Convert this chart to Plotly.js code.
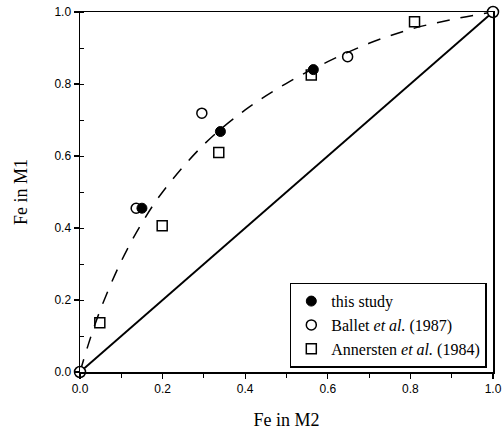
<!DOCTYPE html>
<html>
<head>
<meta charset="utf-8">
<script src="https://cdn.plot.ly/plotly-3.0.1.min.js"></script>
<style>html,body{margin:0;padding:0;background:#fff;}#chart{width:503px;height:434px;}</style>
</head>
<body>
<div id="chart"></div>
<script>
// Data
const thisStudyX = [0.15, 0.34, 0.565];
const thisStudyY = [0.455, 0.668, 0.84];
const balletX = [0.136, 0.295, 0.648];
const balletY = [0.455, 0.719, 0.876];
const annerstenX = [0.048, 0.199, 0.336, 0.56, 0.81];
const annerstenY = [0.137, 0.406, 0.61, 0.825, 0.973];
const endX = [0, 1];
const endY = [0, 1];
const curveX = [0, 0.02, 0.05, 0.1, 0.15, 0.2, 0.3, 0.4, 0.5, 0.6, 0.7, 0.8, 0.9, 1.0];
const curveY = [0, 0.076, 0.175, 0.308, 0.414, 0.5, 0.632, 0.728, 0.802, 0.862, 0.913, 0.952, 0.979, 1.0];
const diagX = [0, 1];
const diagY = [0, 1];
const tickVals = [0, 0.2, 0.4, 0.6, 0.8, 1.0];
const tickText = ['0.0', '0.2', '0.4', '0.6', '0.8', '1.0'];

const serif = 'Liberation Serif, Times New Roman, serif';
const sans = 'Liberation Sans, Arial, sans-serif';

const traces = [
  {x: diagX, y: diagY, mode: 'lines', line: {color: '#000', width: 2}, showlegend: false, hoverinfo: 'skip'},
  {x: curveX, y: curveY, mode: 'lines', line: {color: '#000', width: 1.5, dash: '13px,11px', shape: 'spline'}, showlegend: false, hoverinfo: 'skip'},
  {x: thisStudyX, y: thisStudyY, mode: 'markers', name: 'this study',
   marker: {symbol: 'circle', size: 10, color: '#000', line: {color: '#000', width: 1}}},
  {x: balletX, y: balletY, mode: 'markers', name: 'Ballet <i>et al.</i> (1987)',
   marker: {symbol: 'circle-open', size: 10, color: '#000', line: {color: '#000', width: 1.5}}},
  {x: annerstenX, y: annerstenY, mode: 'markers', name: 'Annersten <i>et al.</i> (1984)',
   marker: {symbol: 'square-open', size: 10, color: '#000', line: {color: '#000', width: 1.5}}},
  {x: endX, y: endY, mode: 'markers', showlegend: false, cliponaxis: false,
   marker: {symbol: 'circle', size: 11, color: '#fff', line: {color: '#000', width: 1.5}}}
];

const layout = {
  width: 503, height: 434,
  margin: {l: 80, r: 10, t: 12, b: 62},
  paper_bgcolor: '#fff', plot_bgcolor: '#fff',
  showlegend: true,
  legend: {
    x: 0.985, y: 0.012, xanchor: 'right', yanchor: 'bottom',
    bordercolor: '#000', borderwidth: 1.5, bgcolor: '#fff',
    font: {family: serif, size: 16, color: '#000'},
    tracegroupgap: 0, itemwidth: 30
  },
  xaxis: {
    range: [0, 1], tickvals: tickVals, ticktext: tickText,
    showgrid: false, zeroline: false, showline: true, linecolor: '#000', linewidth: 1.5, mirror: true,
    ticks: 'outside', ticklen: 5, tickwidth: 1.2, tickcolor: '#000',
    minor: {dtick: 0.1, ticks: 'outside', ticklen: 4, tickwidth: 1, tickcolor: '#000', showgrid: false},
    tickfont: {family: sans, size: 12, color: '#000'},
    title: {text: 'Fe in M2', font: {family: serif, size: 18, color: '#000'}, standoff: 18}
  },
  yaxis: {
    range: [0, 1], tickvals: tickVals, ticktext: tickText,
    showgrid: false, zeroline: false, showline: true, linecolor: '#000', linewidth: 1.5, mirror: true,
    ticks: 'outside', ticklen: 5, tickwidth: 1.2, tickcolor: '#000',
    minor: {dtick: 0.1, ticks: 'inside', ticklen: 4, tickwidth: 1, tickcolor: '#000', showgrid: false},
    tickfont: {family: sans, size: 12, color: '#000'},
    title: {text: 'Fe in M1', font: {family: serif, size: 18, color: '#000'}, standoff: 22}
  }
};

Plotly.newPlot('chart', traces, layout, {staticPlot: true, displayModeBar: false});
</script>
</body>
</html>
